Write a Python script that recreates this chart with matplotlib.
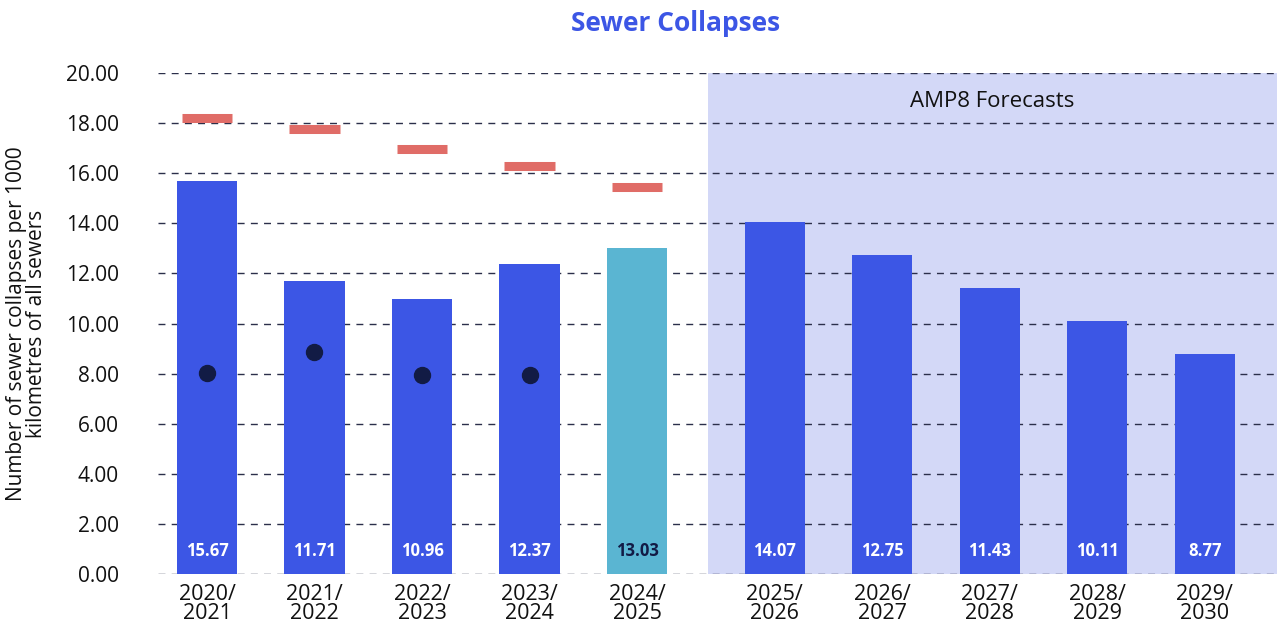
import matplotlib
matplotlib.use("Agg")
import matplotlib.pyplot as plt
import numpy as np

plt.rcParams['font.family'] = ['Open Sans', 'DejaVu Sans']

# Data
years = ["2020/\n2021", "2021/\n2022", "2022/\n2023", "2023/\n2024", "2024/\n2025",
         "2025/\n2026", "2026/\n2027", "2027/\n2028", "2028/\n2029", "2029/\n2030"]
collapses = [15.67, 11.71, 10.96, 12.37, 13.03, 14.07, 12.75, 11.43, 10.11, 8.77]
targets = [18.19, 17.76, 16.95, 16.27, 15.44]
industry_median = [8.02, 8.86, 7.95, 7.95]

BLUE = "#3C56E5"
TEAL = "#5AB5D2"
RED = "#E06C67"
NAVY = "#121B45"
SHADE = "#D3D8F7"

n_actual = 5
gap = 0.28
x = np.array([i if i < n_actual else i + gap for i in range(len(years))], dtype=float)

fig = plt.figure(figsize=(12.77, 6.31), dpi=100)
ax = fig.add_axes([0.1237, 0.0903, 0.8763, 0.7940])

ax.set_xlim(-0.456, 9.953)
ax.set_ylim(0, 20)

# Forecast period shading
ax.axvspan(4.66, 9.953, ymin=0, ymax=1, color=SHADE, zorder=0, lw=0)
ax.text((4.66 + 9.953) / 2, 18.85, "AMP8 Forecasts", ha="center", va="center",
        fontsize=16, color="#111111", zorder=3)

# Gridlines
for v in np.arange(0, 20.01, 2):
    ax.axhline(v, color="#2B2F4A", lw=1.0, linestyle=(0, (5, 4.5)), zorder=1)

colors = [BLUE] * len(years)
colors[4] = TEAL
ax.bar(x, collapses, width=0.56, color=colors, zorder=2)

for xi, v, c in zip(x, collapses, colors):
    ax.text(xi, 0.9, f"{v:.2f}", ha="center", va="center", fontsize=12,
            fontweight="bold", color=(NAVY if c == TEAL else "white"), zorder=4)

# Performance commitment levels
xt = x[:len(targets)]
ax.hlines(targets, xt - 0.235, xt + 0.235, colors=RED, lw=6.5, capstyle="butt", zorder=3)

# Industry median
ax.plot(x[:len(industry_median)], industry_median, "o", color=NAVY, ms=11.5,
        ls="none", zorder=4)

ax.set_yticks(np.arange(0, 20.01, 2))
ax.set_yticklabels([f"{v:.2f}" for v in np.arange(0, 20.01, 2)], fontsize=15, color="#111111")
ax.set_xticks(x)
ax.set_xticklabels(years, fontsize=15.5, color="#111111", linespacing=0.9)
ax.tick_params(axis="both", length=0)
ax.tick_params(axis="y", pad=28)
ax.tick_params(axis="x", pad=7)
for s in ax.spines.values():
    s.set_visible(False)

ax.set_ylabel("Number of sewer collapses per 1000\nkilometres of all sewers", fontsize=15,
              color="#111111", labelpad=14, linespacing=0.9)

fig.text(0.529, 0.962, "Sewer Collapses", ha="center", va="center", fontsize=19,
         fontweight="bold", color=BLUE)

fig.savefig("out.png", dpi=100)
